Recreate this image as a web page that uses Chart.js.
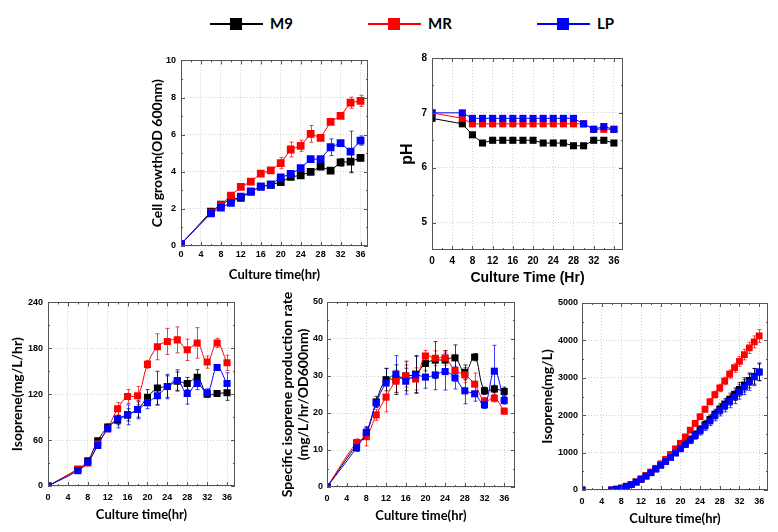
<!DOCTYPE html>
<html>
<head>
<meta charset="utf-8">
<script src="https://cdn.jsdelivr.net/npm/chart.js@4.4.0/dist/chart.umd.min.js"></script>
<style>
    body { margin: 0; background: #fff; width: 778px; height: 532px; position: relative; overflow: hidden; }
    canvas { position: absolute; }
    .leg { position: absolute; top: 16px; height: 16px; }
    .leg .ln { position: absolute; left: 0; top: 7px; width: 53px; height: 1.5px; }
    .leg .sq { position: absolute; left: 20px; top: 2px; width: 12px; height: 12px; }
    .leg .tx { position: absolute; left: 60px; top: -2px; font: bold 15px Lato, sans-serif; color: #000; white-space: nowrap; }
</style>
</head>
<body>
<div id="legend"></div>
<canvas id="c1"></canvas>
<canvas id="c2"></canvas>
<canvas id="c3"></canvas>
<canvas id="c4"></canvas>
<canvas id="c5"></canvas>
<script>
// series
var seriesNames = ['M9', 'MR', 'LP'];
var seriesColors = ['#000000', '#ff0000', '#0000ff'];

// sampling times (hr)
var timeHr = [0, 6, 8, 10, 12, 14, 16, 18, 20, 22, 24, 26, 28, 30, 32, 34, 36];
var timeCum = [0, 6, 7, 8, 9, 10, 11, 12, 13, 14, 15, 16, 17, 18, 19, 20, 21, 22, 23, 24, 25, 26, 27, 28, 29, 30, 31, 32, 33, 34, 35, 36];
var xTicks = [0, 4, 8, 12, 16, 20, 24, 28, 32, 36];

// cell growth (OD600)
var m9Cell = [0.1, 1.85, 2.23, 2.54, 2.59, 2.93, 3.2, 3.3, 3.44, 3.72, 3.81, 3.99, 4.28, 4.06, 4.5, 4.55, 4.75];
var mrCell = [0.1, 1.8, 2.2, 2.72, 3.18, 3.47, 3.9, 4.08, 4.46, 5.2, 5.4, 6.04, 5.83, 6.69, 7.01, 7.72, 7.82];
var lpCell = [0.1, 1.76, 2.07, 2.32, 2.66, 2.93, 3.2, 3.31, 3.69, 3.88, 4.19, 4.68, 4.68, 5.32, 5.54, 5.09, 5.68];
var m9CellErr = [0, 0.05, 0.05, 0.05, 0.05, 0.05, 0.05, 0.05, 0.05, 0.05, 0.05, 0.08, 0.08, 0.08, 0.2, 0.6, 0.15];
var mrCellErr = [0, 0.05, 0.05, 0.1, 0.1, 0.08, 0.08, 0.1, 0.3, 0.4, 0.3, 0.45, 0.1, 0.1, 0.1, 0.3, 0.3];
var lpCellErr = [0, 0.05, 0.05, 0.1, 0.1, 0.08, 0.08, 0.1, 0.1, 0.1, 0.1, 0.1, 0.1, 0.45, 0.1, 1.1, 0.25];
var cellTicks = [0, 2, 4, 6, 8, 10];

// pH
var m9PH = [6.9, 6.8, 6.6, 6.45, 6.5, 6.5, 6.5, 6.5, 6.5, 6.45, 6.45, 6.45, 6.4, 6.4, 6.5, 6.5, 6.45];
var mrPH = [7.0, 6.9, 6.8, 6.8, 6.8, 6.8, 6.8, 6.8, 6.8, 6.8, 6.8, 6.8, 6.8, 6.8, 6.7, 6.7, 6.7];
var lpPH = [7.0, 7.0, 6.9, 6.9, 6.9, 6.9, 6.9, 6.9, 6.9, 6.9, 6.9, 6.9, 6.9, 6.8, 6.7, 6.75, 6.7];
var m9PHErr = [0, 0.02, 0.03, 0.04, 0.03, 0.03, 0.03, 0.03, 0.03, 0.04, 0.04, 0.04, 0.03, 0.03, 0.03, 0.03, 0.04];
var mrPHErr = [0, 0.02, 0.02, 0.02, 0.02, 0.02, 0.02, 0.02, 0.02, 0.02, 0.02, 0.02, 0.02, 0.02, 0.02, 0.02, 0.02];
var lpPHErr = [0, 0.02, 0.02, 0.02, 0.02, 0.02, 0.02, 0.02, 0.02, 0.02, 0.02, 0.02, 0.02, 0.02, 0.02, 0.04, 0.02];
var phTicks = [5, 6, 7, 8];

// isoprene production rate (mg/L/hr)
var m9Rate = [0, 22, 33, 59, 77, 86, 93, 100, 116, 128, 130, 137, 134, 142, 120, 121, 122];
var mrRate = [0, 22, 30, 55, 75, 101, 117, 118, 159, 182, 189, 191, 178, 187, 162, 187, 161];
var lpRate = [0, 20, 31, 53, 75, 88, 93, 100, 109, 118, 130, 138, 121, 134, 122, 155, 134];
var m9RateErr = [0, 2, 3, 3, 4, 6, 8, 10, 10, 22, 14, 12, 8, 10, 4, 3, 10];
var mrRateErr = [0, 2, 3, 3, 4, 8, 9, 12, 5, 17, 17, 17, 14, 20, 8, 6, 10];
var lpRateErr = [0, 2, 3, 3, 4, 12, 13, 12, 8, 12, 16, 14, 14, 8, 5, 3, 14];
var rateTicks = [0, 60, 120, 180, 240];

// specific isoprene production rate (mg/L/hr/OD600)
var m9Spec = [0, 11.4, 14.5, 23, 29, 29, 30, 30.5, 33.4, 34.3, 34.3, 34.9, 31, 35.1, 26, 26.5, 25.8];
var mrSpec = [0, 12, 13.6, 19.5, 24.3, 28.6, 30, 29.2, 35.4, 34.8, 34.9, 31.5, 30.3, 27.8, 23.2, 24, 20.5];
var lpSpec = [0, 10.6, 14.8, 22.7, 28.1, 30.5, 28.6, 30.3, 29.7, 30.3, 31.2, 29.5, 26, 25.2, 22.2, 31.3, 23.4];
var m9SpecErr = [0, 1, 1.5, 1.5, 3, 4, 4, 5, 2, 5, 2.5, 3.5, 2, 1, 1, 1, 1.2];
var mrSpecErr = [0, 1, 2.5, 1.5, 4, 3, 3, 3, 1.5, 2, 2, 3, 2, 3, 1, 1, 0.8];
var lpSpecErr = [0, 1, 1.5, 1, 4, 5, 3.5, 5, 3, 4, 5, 3, 3.5, 2, 1, 7, 1];
var specTicks = [0, 10, 20, 30, 40, 50];

// cumulative isoprene (mg/L)
var m9Cum = [0, 0, 22, 50, 100, 150, 215, 290, 375, 465, 565, 670, 775, 885, 1000, 1120, 1240, 1360, 1490, 1620, 1750, 1890, 2030, 2170, 2300, 2430, 2560, 2690, 2810, 2930, 3040, 3150];
var mrCum = [0, 0, 20, 50, 100, 150, 220, 300, 390, 480, 580, 700, 820, 950, 1100, 1250, 1420, 1600, 1780, 1960, 2160, 2360, 2550, 2730, 2915, 3100, 3270, 3440, 3620, 3800, 3960, 4120];
var lpCum = [0, 0, 20, 45, 95, 145, 210, 285, 370, 460, 560, 660, 760, 870, 985, 1100, 1215, 1330, 1455, 1580, 1710, 1850, 1990, 2130, 2250, 2370, 2490, 2620, 2750, 2880, 3020, 3160];
var m9CumErr = [0, 0, 5, 5, 10, 10, 15, 20, 20, 25, 30, 35, 40, 45, 50, 60, 70, 80, 90, 100, 110, 120, 130, 140, 150, 160, 170, 180, 190, 200, 210, 220];
var mrCumErr = [0, 0, 5, 5, 10, 10, 15, 20, 20, 25, 30, 30, 40, 40, 50, 50, 60, 60, 70, 70, 80, 80, 90, 100, 100, 110, 120, 130, 140, 150, 160, 170];
var lpCumErr = [0, 0, 5, 5, 10, 10, 15, 20, 25, 30, 35, 40, 45, 50, 60, 70, 80, 90, 100, 110, 120, 130, 140, 150, 160, 170, 180, 190, 200, 215, 230, 240];
var cumTicks = [0, 1000, 2000, 3000, 4000, 5000];

// legend (html)
var legX = [210, 368, 537];
var legend = document.getElementById('legend');
seriesNames.forEach(function (n, i) {
    var d = document.createElement('div');
    d.className = 'leg';
    d.style.left = legX[i] + 'px';
    d.innerHTML = '<div class="ln" style="background:' + seriesColors[i] + '"></div>' +
        '<div class="sq" style="background:' + seriesColors[i] + '"></div>' +
        '<div class="tx">' + n + '</div>';
    legend.appendChild(d);
});

// frame with inward ticks, like origin plots
var framePlugin = {
    id: 'frame',
    afterDraw: function (chart) {
        var ctx = chart.ctx, a = chart.chartArea, sx = chart.scales.x, sy = chart.scales.y;
        ctx.save();
        ctx.strokeStyle = '#555';
        ctx.lineWidth = 1;
        ctx.strokeRect(Math.round(a.left) + 0.5, Math.round(a.top) + 0.5, Math.round(a.width) - 1, Math.round(a.height) - 1);
        ctx.beginPath();
        var xt = sx.ticks.map(function (t) { return t.value; });
        var xs = xt[1] - xt[0];
        xt.forEach(function (v) {
            [[v, 4], [v + xs / 2, 2]].forEach(function (m) {
                if (m[0] > sx.max) return;
                var px = Math.round(sx.getPixelForValue(m[0])) + 0.5;
                ctx.moveTo(px, a.bottom); ctx.lineTo(px, a.bottom - m[1]);
                ctx.moveTo(px, a.top); ctx.lineTo(px, a.top + m[1]);
            });
        });
        var yt = sy.ticks.map(function (t) { return t.value; });
        var ys = yt[1] - yt[0];
        yt.forEach(function (v) {
            [[v, 4], [v + ys / 2, 2]].forEach(function (m) {
                if (m[0] > sy.max) return;
                var py = Math.round(sy.getPixelForValue(m[0])) + 0.5;
                ctx.moveTo(a.left, py); ctx.lineTo(a.left + m[1], py);
                ctx.moveTo(a.right, py); ctx.lineTo(a.right - m[1], py);
            });
        });
        ctx.stroke();
        ctx.restore();
    }
};

// vertical error bars read from ds.errs
var errPlugin = {
    id: 'errbars',
    beforeDatasetsDraw: function (chart) {
        var ctx = chart.ctx, sy = chart.scales.y;
        for (var i = chart.data.datasets.length - 1; i >= 0; i--) {
            var ds = chart.data.datasets[i];
            if (!ds.errs) continue;
            var meta = chart.getDatasetMeta(i);
            ctx.save();
            ctx.strokeStyle = ds.borderColor;
            ctx.globalAlpha = 0.75;
            ctx.lineWidth = 1;
            ctx.beginPath();
            meta.data.forEach(function (pt, k) {
                var e = ds.errs[k];
                if (!e) return;
                var v = ds.data[k].y;
                var y1 = sy.getPixelForValue(v + e), y2 = sy.getPixelForValue(v - e);
                var x = Math.round(pt.x) + 0.5;
                ctx.moveTo(x, y1); ctx.lineTo(x, y2);
                ctx.moveTo(x - 2, y1); ctx.lineTo(x + 2, y1);
                ctx.moveTo(x - 2, y2); ctx.lineTo(x + 2, y2);
            });
            ctx.stroke();
            ctx.restore();
        }
    }
};

function makeChart(id, p) {
    var cv = document.getElementById(id);
    var left = p.plot[0] - p.yW, top = p.plot[1] - p.padTop;
    var w = p.plot[2] - left + p.padRight, h = p.plot[3] - top + p.xH;
    cv.width = w; cv.height = h;
    cv.style.left = left + 'px'; cv.style.top = top + 'px';
    var xf = p.xTitleFont, yf = p.yTitleFont;
    var datasets = p.series.map(function (s, i) {
        return {
            label: seriesNames[i],
            data: p.time.map(function (t, k) { return {x: t, y: s[k]}; }),
            errs: p.errs[i],
            borderColor: seriesColors[i],
            backgroundColor: seriesColors[i],
            borderWidth: 1,
            pointStyle: 'rect',
            pointRadius: p.pointR,
            pointBorderWidth: 0,
            tension: p.tension,
            order: 2 - i
        };
    });
    new Chart(cv, {
        type: 'line',
        data: {datasets: datasets},
        options: {
            responsive: false,
            animation: false,
            events: [],
            layout: {padding: {top: p.padTop, right: p.padRight, left: 0, bottom: 0}},
            plugins: {legend: {display: false}, tooltip: {enabled: false}},
            scales: {
                x: {
                    type: 'linear', min: 0, max: p.xMax,
                    afterBuildTicks: function (sc) { sc.ticks = xTicks.map(function (v) { return {value: v}; }); },
                    afterFit: function (sc) { sc.height = p.xH; },
                    grid: {color: '#cfcfcf', drawTicks: false},
                    border: {display: false, dash: [1, 2]},
                    ticks: {padding: p.xTickPad, color: '#000', font: p.tickFont, maxRotation: 0, autoSkip: false,
                        callback: function (v) { return String(v); }},
                    title: {display: true, text: p.xTitle, color: '#000', font: xf,
                        padding: {top: 0, bottom: top + h - p.xTitleY - xf.size * 0.6}}
                },
                y: {
                    type: 'linear', min: p.yTicks[0] - (p.yLow || 0), max: p.yTicks[p.yTicks.length - 1],
                    afterBuildTicks: function (sc) { sc.ticks = p.yTicks.map(function (v) { return {value: v}; }); },
                    afterFit: function (sc) { sc.width = p.yW; },
                    grid: {color: '#cfcfcf', drawTicks: false},
                    border: {display: false, dash: [1, 2]},
                    ticks: {padding: p.yTickPad, color: '#000', font: p.tickFont, autoSkip: false,
                        callback: function (v) { return String(v); }},
                    title: {display: true, text: p.yTitle, color: '#000', font: yf,
                        padding: {top: p.yTitleX - left - yf.size * 0.6, bottom: 0}}
                }
            }
        },
        plugins: [framePlugin, errPlugin]
    });
}

var tickSmall = {family: 'Liberation Sans', size: 9, weight: 'bold'};
var titleX = {family: 'Lato', size: 13, weight: 'bold'};
var titleY = {family: 'Lato', size: 14, weight: 'bold'};

makeChart('c1', {
    plot: [181, 60, 368, 246], yW: 41, padTop: 10, padRight: 10, xH: 40, xMax: 37.5,
    time: timeHr, series: [m9Cell, mrCell, lpCell], errs: [m9CellErr, mrCellErr, lpCellErr],
    yTicks: cellTicks, pointR: 5.5, tension: 0,
    xTitle: 'Culture time(hr)', yTitle: 'Cell growth(OD 600nm)',
    xTitleY: 275, yTitleX: 157, xTickPad: 3, yTickPad: 5,
    tickFont: tickSmall, xTitleFont: titleX, yTitleFont: titleY
});

makeChart('c2', {
    plot: [432, 57, 623, 250], yW: 37, padTop: 10, padRight: 10, xH: 40, xMax: 37.8,
    time: timeHr, series: [m9PH, mrPH, lpPH], errs: [m9PHErr, mrPHErr, lpPHErr],
    yTicks: phTicks, yLow: 0.5, pointR: 5, tension: 0,
    xTitle: 'Culture Time (Hr)', yTitle: 'pH',
    xTitleY: 278, yTitleX: 408, xTickPad: 5, yTickPad: 5,
    tickFont: {family: 'Liberation Sans', size: 10, weight: 'bold'},
    xTitleFont: {family: 'Liberation Sans', size: 14, weight: 'bold'},
    yTitleFont: {family: 'Liberation Sans', size: 16, weight: 'bold'}
});

makeChart('c3', {
    plot: [48, 302, 235, 486], yW: 48, padTop: 10, padRight: 10, xH: 44, xMax: 37.6,
    time: timeHr, series: [m9Rate, mrRate, lpRate], errs: [m9RateErr, mrRateErr, lpRateErr],
    yTicks: rateTicks, pointR: 5, tension: 0.4,
    xTitle: 'Culture time(hr)', yTitle: 'Isoprene(mg/L/hr)',
    xTitleY: 515, yTitleX: 17, xTickPad: 6, yTickPad: 5,
    tickFont: tickSmall, xTitleFont: titleX, yTitleFont: titleY
});

makeChart('c4', {
    plot: [327, 302, 515, 487], yW: 57, padTop: 10, padRight: 8, xH: 43, xMax: 38.2,
    time: timeHr, series: [m9Spec, mrSpec, lpSpec], errs: [m9SpecErr, mrSpecErr, lpSpecErr],
    yTicks: specTicks, pointR: 5, tension: 0.4,
    xTitle: 'Culture time(hr)', yTitle: ['Specific isoprene production rate', '(mg/L/hr/OD600nm)'],
    xTitleY: 516, yTitleX: 287, xTickPad: 6, yTickPad: 4,
    tickFont: tickSmall, xTitleFont: titleX, yTitleFont: titleY
});

makeChart('c5', {
    plot: [582, 303, 768, 490], yW: 52, padTop: 10, padRight: 10, xH: 42, xMax: 37.8,
    time: timeCum, series: [m9Cum, mrCum, lpCum], errs: [m9CumErr, mrCumErr, lpCumErr],
    yTicks: cumTicks, pointR: 4.8, tension: 0.2,
    xTitle: 'Culture time(hr)', yTitle: 'Isoprene(mg/L)',
    xTitleY: 519, yTitleX: 547, xTickPad: 6, yTickPad: 4,
    tickFont: tickSmall, xTitleFont: titleX, yTitleFont: titleY
});
</script>
</body>
</html>
